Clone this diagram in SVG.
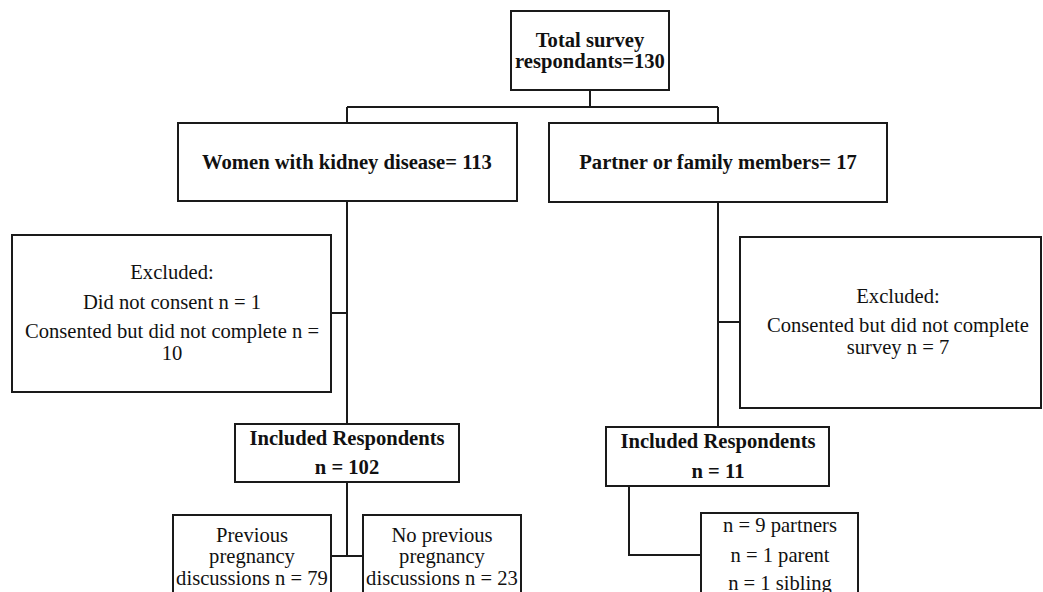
<svg xmlns="http://www.w3.org/2000/svg" width="1043" height="592" viewBox="0 0 1043 592">
<style>
.box{fill:#fff;stroke:#1a1a1a;stroke-width:2}
.ln{fill:none;stroke:#1a1a1a;stroke-width:2}
text{font-family:"Liberation Serif","Times New Roman",serif;font-size:20.6px;fill:#111;text-anchor:middle}
.b{font-weight:bold}
</style>
<rect width="1043" height="592" fill="#fff"/>
<g id="connectors">
<path class="ln" d="M590,90V107M347,107H718M347,107V123M718,107V123"/>
<path class="ln" d="M347,201V424M331,313H347"/>
<path class="ln" d="M718,202V427M718,322H740"/>
<path class="ln" d="M347,482V556M331,556H363"/>
<path class="ln" d="M629,486V555H701"/>
</g>
<g id="total">
<rect class="box" x="511" y="11" width="158" height="79"/>
<text class="b" x="590" y="47">Total survey</text>
<text class="b" x="590" y="68">respondants=130</text>
</g>
<g id="women">
<rect class="box" x="178" y="123" width="339" height="78"/>
<text class="b" x="347" y="169">Women with kidney disease= 113</text>
</g>
<g id="partner">
<rect class="box" x="549" y="123" width="338" height="79"/>
<text class="b" x="718" y="169">Partner or family members= 17</text>
</g>
<g id="excluded-left">
<rect class="box" x="12" y="235" width="319" height="157"/>
<text x="172" y="279">Excluded:</text>
<text x="172" y="309">Did not consent n = 1</text>
<text x="172" y="338">Consented but did not complete n =</text>
<text x="172" y="360">10</text>
</g>
<g id="excluded-right">
<rect class="box" x="740" y="237" width="301" height="171"/>
<text x="898" y="303">Excluded:</text>
<text x="898" y="332">Consented but did not complete</text>
<text x="898" y="354">survey n = 7</text>
</g>
<g id="included-left">
<rect class="box" x="235" y="424" width="224" height="58"/>
<text class="b" x="347" y="445">Included Respondents</text>
<text class="b" x="347" y="474">n = 102</text>
</g>
<g id="included-right">
<rect class="box" x="606" y="427" width="223" height="59"/>
<text class="b" x="718" y="448">Included Respondents</text>
<text class="b" x="718" y="478">n = 11</text>
</g>
<g id="previous">
<rect class="box" x="173" y="515" width="158" height="90"/>
<text x="252" y="542">Previous</text>
<text x="252" y="563">pregnancy</text>
<text x="252" y="585">discussions n = 79</text>
</g>
<g id="no-previous">
<rect class="box" x="363" y="515" width="158" height="90"/>
<text x="442" y="542">No previous</text>
<text x="442" y="563">pregnancy</text>
<text x="442" y="585">discussions n = 23</text>
</g>
<g id="family-breakdown">
<rect class="box" x="701" y="513" width="157" height="92"/>
<text x="780" y="532">n = 9 partners</text>
<text x="780" y="562">n = 1 parent</text>
<text x="780" y="590">n = 1 sibling</text>
</g>
</svg>
